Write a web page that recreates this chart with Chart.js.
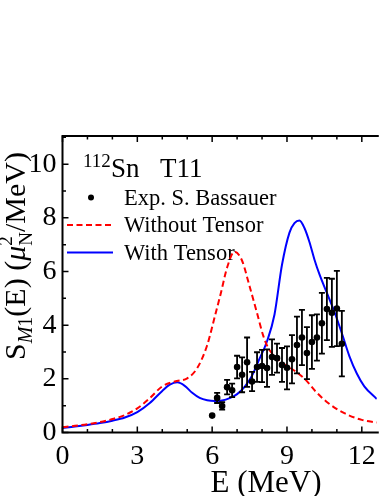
<!DOCTYPE html>
<html>
<head>
<meta charset="utf-8">
<script src="https://cdn.jsdelivr.net/npm/chart.js@4.4.0/dist/chart.umd.min.js"></script>
<style>
  html, body { margin: 0; padding: 0; background: #fff; }
  canvas { display: block; }
</style>
</head>
<body>
<canvas id="myChart" width="383" height="496"></canvas>
<script>
// experimental points (S. Bassauer)
const expEnergy = [6.0, 6.2, 6.4, 6.6, 6.8, 7.0, 7.2, 7.4, 7.6, 7.8, 8.0, 8.2, 8.4, 8.6, 8.8, 9.0, 9.2, 9.4, 9.6, 9.8, 10.0, 10.2, 10.4, 10.6, 10.8, 11.0, 11.2];
const expStrength = [0.63, 1.29, 0.99, 1.69, 1.57, 2.44, 2.15, 2.62, 1.90, 2.44, 2.48, 2.40, 2.81, 2.77, 2.52, 2.41, 2.73, 3.26, 3.54, 2.96, 3.37, 3.54, 4.07, 4.60, 4.46, 4.62, 3.31];
const expError = [0, 0.19, 0.14, 0.27, 0.25, 0.42, 0.65, 0.92, 0.36, 0.55, 0.6, 0.7, 0.66, 0.54, 0.63, 0.8, 0.9, 1.06, 1.03, 0.97, 1.0, 0.86, 1.13, 1.16, 1.27, 1.4, 1.22];

// calculations
const withoutTensorE = [0, 0.5, 1, 1.5, 2, 2.5, 3, 3.5, 4, 4.5, 5, 5.4, 5.8, 6.1, 6.35, 6.6, 6.9, 7.2, 7.5, 7.8, 8.05, 8.25, 8.5, 8.85, 9.35, 9.75, 10.15, 10.65, 11.3, 12, 12.6];
const withoutTensorS = [0.2, 0.25, 0.31, 0.39, 0.5, 0.65, 0.9, 1.28, 1.72, 1.9, 2.02, 2.4, 3.25, 4.3, 5.2, 6.15, 6.74, 6.4, 5.45, 4.45, 3.6, 3.15, 2.85, 2.57, 2.27, 1.96, 1.53, 1.1, 0.72, 0.47, 0.37];
const withTensorE = [0, 0.5, 1, 1.5, 2, 2.5, 3, 3.5, 4, 4.3, 4.6, 4.9, 5.2, 5.5, 5.8, 6.1, 6.4, 6.7, 7, 7.3, 7.6, 7.9, 8.2, 8.5, 8.8, 9.1, 9.3, 9.5, 9.7, 9.9, 10.1, 10.3, 10.6, 10.9, 11.2, 11.5, 11.8, 12.1, 12.6];
const withTensorS = [0.17, 0.22, 0.28, 0.35, 0.44, 0.56, 0.76, 1.1, 1.55, 1.78, 1.87, 1.74, 1.48, 1.29, 1.2, 1.17, 1.19, 1.28, 1.43, 1.7, 2.12, 2.75, 3.4, 4.4, 6.25, 7.45, 7.8, 7.9, 7.62, 7.1, 6.45, 5.9, 5.2, 4.5, 3.7, 2.85, 2.2, 1.72, 1.25];

const xTickValues = [0, 3, 6, 9, 12];
const yTickValues = [0, 2, 4, 6, 8, 10];
const legendLabels = ['Exp. S. Bassauer', 'Without Tensor', 'With Tensor'];

const serif = "'Liberation Serif', 'Times New Roman', serif";

function toPoints(xs, ys) {
  return xs.map((x, i) => ({x: x, y: ys[i]}));
}

// inward ticks + frame
const axisFrame = {
  id: 'axisFrame',
  afterDatasetsDraw(chart) {
    const {ctx, chartArea, scales} = chart;
    const {left, right, top, bottom} = chartArea;
    ctx.save();
    ctx.strokeStyle = '#000';
    ctx.lineWidth = 2;
    ctx.beginPath();
    ctx.moveTo(right + 2, top);
    ctx.lineTo(left, top);
    ctx.lineTo(left, bottom);
    ctx.lineTo(right + 2, bottom);
    ctx.stroke();
    ctx.lineWidth = 1.5;
    ctx.beginPath();
    for (let v = 0; v <= 12; v++) {
      const px = scales.x.getPixelForValue(v);
      const len = v % 3 === 0 ? 6 : 3.5;
      ctx.moveTo(px, bottom); ctx.lineTo(px, bottom - len);
      ctx.moveTo(px, top); ctx.lineTo(px, top + len);
    }
    for (let v = 0; v <= 11; v++) {
      const py = scales.y.getPixelForValue(v);
      const len = v % 2 === 0 ? 6 : 3.5;
      ctx.moveTo(left, py); ctx.lineTo(left + len, py);
    }
    ctx.stroke();
    ctx.restore();
  }
};

// error bars under the exp. dots
const errorBars = {
  id: 'errorBars',
  beforeDatasetDraw(chart, args) {
    if (args.index !== 0) return;
    const {ctx, scales} = chart;
    ctx.save();
    ctx.strokeStyle = '#000';
    ctx.lineWidth = 1.8;
    ctx.beginPath();
    expEnergy.forEach((e, i) => {
      if (!expError[i]) return;
      const px = scales.x.getPixelForValue(e);
      const hi = scales.y.getPixelForValue(expStrength[i] + expError[i]);
      const lo = scales.y.getPixelForValue(expStrength[i] - expError[i]);
      ctx.moveTo(px, hi); ctx.lineTo(px, lo);
      ctx.moveTo(px - 3, hi); ctx.lineTo(px + 3, hi);
      ctx.moveTo(px - 3, lo); ctx.lineTo(px + 3, lo);
    });
    ctx.stroke();
    ctx.restore();
  }
};

// legend, label and axis titles
const textLayer = {
  id: 'textLayer',
  beforeDatasetsDraw(chart) {
    const ctx = chart.ctx;
    ctx.save();
    ctx.fillStyle = '#000';
    ctx.textBaseline = 'alphabetic';
    ctx.textAlign = 'left';

    ctx.font = `19px ${serif}`;
    ctx.fillText('112', 83, 167);
    ctx.font = `27px ${serif}`;
    ctx.fillText('Sn', 111, 176.5);
    ctx.fillText('T11', 160, 176.5);

    ctx.font = `22.5px ${serif}`;
    ctx.fillText(legendLabels[0], 124, 204.5);
    ctx.fillText(legendLabels[1], 124, 232);
    ctx.fillText(legendLabels[2], 124, 260);

    ctx.beginPath();
    ctx.arc(91, 197.5, 3, 0, Math.PI * 2);
    ctx.fill();

    ctx.lineWidth = 2;
    ctx.strokeStyle = '#ff0000';
    ctx.setLineDash([6, 3.5]);
    ctx.beginPath(); ctx.moveTo(67, 225); ctx.lineTo(113, 225); ctx.stroke();
    ctx.setLineDash([]);
    ctx.strokeStyle = '#0000ff';
    ctx.beginPath(); ctx.moveTo(67, 252.5); ctx.lineTo(113, 252.5); ctx.stroke();

    // x title
    ctx.font = `31px ${serif}`;
    ctx.textAlign = 'center';
    ctx.fillText('E (MeV)', 266, 492);

    // y title, rotated
    ctx.textAlign = 'left';
    ctx.translate(25, 360);
    ctx.rotate(-Math.PI / 2);
    let cx = 0;
    const part = (text, size, dy, italic, advance = true) => {
      ctx.font = `${italic ? 'italic ' : ''}${size}px ${serif}`;
      ctx.fillText(text, cx, dy);
      const w = ctx.measureText(text).width;
      if (advance) cx += w;
      return w;
    };
    part('S', 30, 0);
    part('M', 20, 7, true);
    part('1', 20, 7);
    part('(E) (', 30, 0);
    part('\u03bc', 30, 0, true);
    const w2 = part('2', 19, -13, false, false);
    const wN = part('N', 19, 7, false, false);
    cx += Math.max(w2, wN);
    part('/MeV)', 30, 0);
    ctx.restore();
  }
};

const config = {
  type: 'scatter',
  data: {
    datasets: [
      {
        label: legendLabels[0],
        data: toPoints(expEnergy, expStrength),
        showLine: false,
        pointRadius: 3.3,
        pointBackgroundColor: '#000',
        pointBorderWidth: 0
      },
      {
        label: legendLabels[1],
        data: toPoints(withoutTensorE, withoutTensorS),
        showLine: true,
        borderColor: '#ff0000',
        borderWidth: 2,
        borderDash: [6, 3.5],
        pointRadius: 0,
        cubicInterpolationMode: 'monotone'
      },
      {
        label: legendLabels[2],
        data: toPoints(withTensorE, withTensorS),
        showLine: true,
        borderColor: '#0000ff',
        borderWidth: 2,
        pointRadius: 0,
        cubicInterpolationMode: 'monotone'
      }
    ]
  },
  options: {
    responsive: false,
    animation: false,
    devicePixelRatio: 1,
    layout: {padding: {top: 136, left: 0, right: 0, bottom: 0}},
    plugins: {legend: {display: false}, tooltip: {enabled: false}},
    scales: {
      x: {
        type: 'linear',
        min: 0,
        max: 12.6,
        afterBuildTicks: scale => { scale.ticks = xTickValues.map(v => ({value: v})); },
        afterFit: scale => { scale.height = 63.5; },
        grid: {display: false, drawTicks: false},
        border: {display: false},
        ticks: {font: {family: serif, size: 28}, color: '#000', padding: 7, maxRotation: 0, autoSkip: false}
      },
      y: {
        type: 'linear',
        min: 0,
        max: 11.05,
        afterBuildTicks: scale => { scale.ticks = yTickValues.map(v => ({value: v})); },
        afterFit: scale => { scale.width = 62.5; },
        grid: {display: false, drawTicks: false},
        border: {display: false},
        ticks: {font: {family: serif, size: 28}, color: '#000', padding: 6}
      }
    }
  },
  plugins: [textLayer, errorBars, axisFrame]
};

new Chart(document.getElementById('myChart').getContext('2d'), config);
</script>
</body>
</html>
